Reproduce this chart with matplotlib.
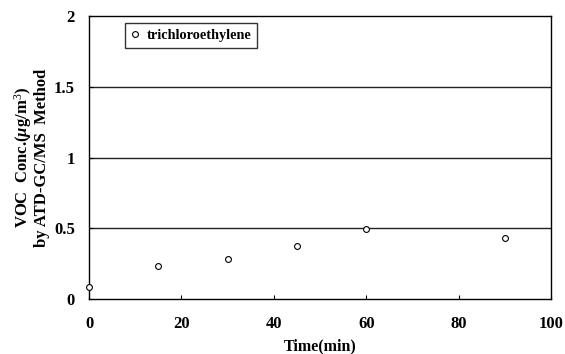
import matplotlib
matplotlib.use("Agg")
import matplotlib.pyplot as plt

time_min = [0, 15, 30, 45, 60, 90]
conc = [0.087, 0.233, 0.283, 0.377, 0.495, 0.43]
series_name = "trichloroethylene"
x_ticks = [0, 20, 40, 60, 80, 100]
y_ticks = [0, 0.5, 1, 1.5, 2]
y_tick_labels = ["0", "0.5", "1", "1.5", "2"]

plt.rcParams["font.family"] = ["Liberation Serif", "DejaVu Serif"]
plt.rcParams["mathtext.fontset"] = "custom"
plt.rcParams["mathtext.rm"] = "Liberation Serif"
plt.rcParams["mathtext.it"] = "Liberation Serif:italic:bold"
plt.rcParams["mathtext.bf"] = "Liberation Serif:bold"

fig = plt.figure(figsize=(5.65, 3.54), dpi=100)
ax = fig.add_axes([89 / 565, 1 - 299 / 354, (551 - 89) / 565, (299 - 16) / 354])

for yv in y_ticks[1:-1]:
    ax.axhline(yv, color="#222222", lw=1.0, zorder=1)

ax.plot(time_min, conc, linestyle="none", marker="o", markersize=4.2,
        markerfacecolor="white", markeredgecolor="black", markeredgewidth=0.8,
        label=series_name, zorder=3, clip_on=False)

ax.set_xlim(0, 100)
ax.set_ylim(0, 2)
ax.set_xticks(x_ticks)
ax.set_yticks(y_ticks)
ax.set_yticklabels(y_tick_labels)
ax.tick_params(axis="both", direction="in", length=3, width=0.8, labelsize=12)
ax.tick_params(axis="x", pad=12)
ax.tick_params(axis="y", pad=10)
for lbl in ax.get_xticklabels() + ax.get_yticklabels():
    lbl.set_fontweight("bold")
for s in ax.spines.values():
    s.set_linewidth(1.0)

ax.set_xlabel("Time(min)", fontsize=11.5, fontweight="bold", labelpad=5)
ax.set_ylabel("VOC  Conc.($\\mu$g/m$^3$)\nby ATD-GC/MS  Method",
              fontsize=12, fontweight="bold", labelpad=3, linespacing=1.0)

leg = ax.legend(loc="upper left", bbox_to_anchor=(0.078, 0.975), frameon=True,
                fancybox=False, edgecolor="black", handlelength=0.6,
                handletextpad=0.5, borderpad=0.4, borderaxespad=0,
                prop={"size": 10.3, "weight": "bold"})
leg.get_frame().set_linewidth(1.0)

fig.savefig("out.png", dpi=100, facecolor="white")
